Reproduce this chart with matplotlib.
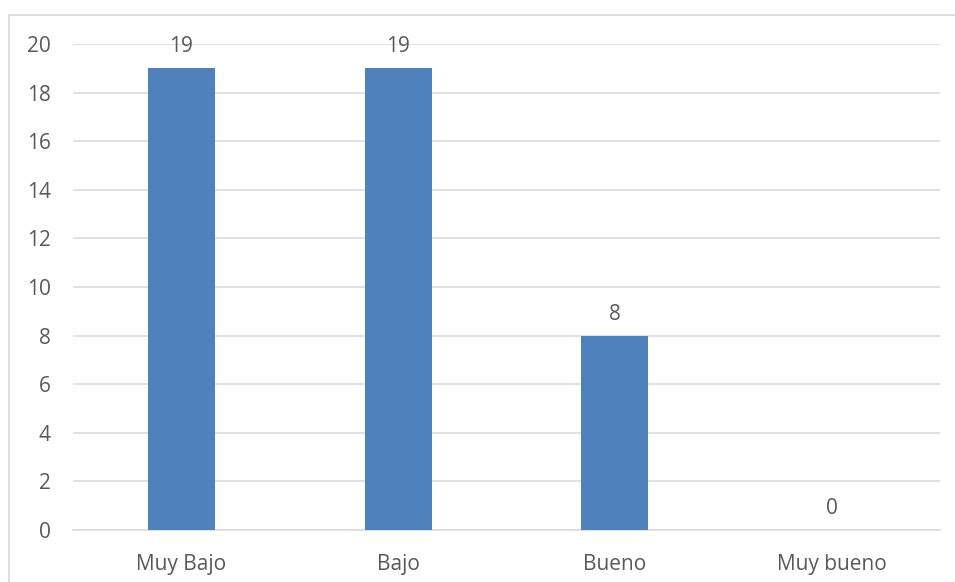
import numpy as np
import matplotlib.pyplot as plt
from matplotlib.patches import Rectangle

categorias = ["Muy Bajo", "Bajo", "Bueno", "Muy bueno"]
valores = [19, 19, 8, 0]

plt.rcParams['font.family'] = ['Open Sans', 'DejaVu Sans']
gris_texto = '#595959'

fig = plt.figure(figsize=(9.55, 5.82), dpi=100)
ax = fig.add_axes([0.0764, 0.0893, 0.9079, 0.8351])

# marco exterior del grafico
fig.patches.append(Rectangle((0.0094, -0.05), 1.1, 0.05 + 1 - 15 / 582,
                             transform=fig.transFigure, fill=False,
                             edgecolor='#d9d9d9', linewidth=1.2))

x = np.arange(len(categorias))
barras = ax.bar(x, valores, width=0.31, color='#4f81bd', zorder=3)

for xi, v in zip(x, valores):
    ax.annotate(str(v), (xi, v), xytext=(0, 15.5), textcoords='offset points',
                ha='center', va='center', fontsize=15, color=gris_texto)

ax.set_xlim(-0.5, len(categorias) - 0.5)
ax.set_ylim(0, 20)
ax.set_yticks(range(0, 21, 2))
ax.set_xticks(x)
ax.set_xticklabels(categorias)
ax.yaxis.grid(True, color='#d9d9d9', linewidth=1.1, zorder=0)
ax.set_axisbelow(True)
ax.tick_params(axis='both', length=0, labelsize=15, labelcolor=gris_texto)
ax.tick_params(axis='x', pad=17)
ax.tick_params(axis='y', pad=16)
for lado in ['top', 'right', 'left']:
    ax.spines[lado].set_visible(False)
ax.spines['bottom'].set_color('#d9d9d9')
ax.spines['bottom'].set_linewidth(1.1)

fig.savefig('out.png', dpi=100)
